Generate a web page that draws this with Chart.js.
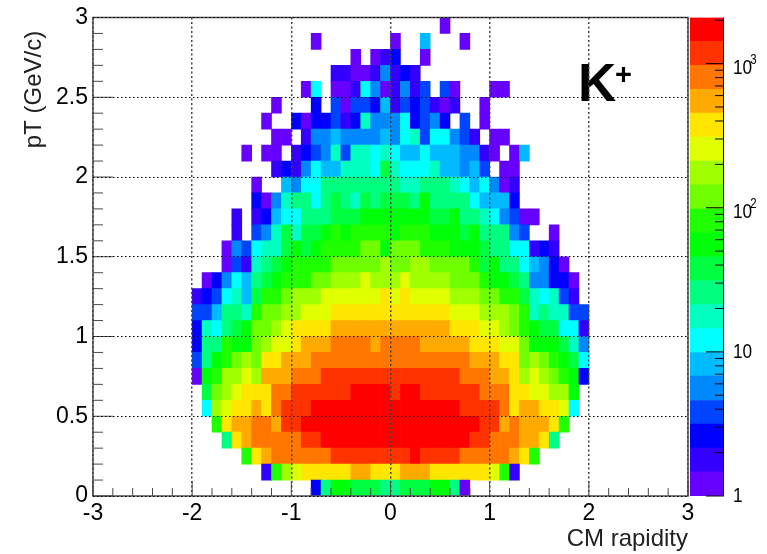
<!DOCTYPE html>
<html>
<head>
<meta charset="utf-8">
<title>K+ pT vs CM rapidity</title>
<script src="https://cdn.jsdelivr.net/npm/chart.js@4"></script>
<style>
  html, body { margin: 0; padding: 0; background: #fff; }
  #plot { position: absolute; left: 0; top: 0; }
  #zbar { position: absolute; left: 690px; top: 0; }
</style>
</head>
<body>
<canvas id="plot" width="767" height="554"></canvas>
<canvas id="zbar" width="77" height="554"></canvas>
<script>
// axes
const rapidityTicks = [-3, -2, -1, 0, 1, 2, 3];
const rapidityMinor = [-2.8, -2.6, -2.4, -2.2, -1.8, -1.6, -1.4, -1.2, -0.8, -0.6, -0.4, -0.2, 0.2, 0.4, 0.6, 0.8, 1.2, 1.4, 1.6, 1.8, 2.2, 2.4, 2.6, 2.8];
const ptTicks = [0, 0.5, 1, 1.5, 2, 2.5, 3];
const ptMinor = [0.1, 0.2, 0.3, 0.4, 0.6, 0.7, 0.8, 0.9, 1.1, 1.2, 1.3, 1.4, 1.6, 1.7, 1.8, 1.9, 2.1, 2.2, 2.3, 2.4, 2.6, 2.7, 2.8, 2.9];
const xTitle = "CM rapidity";
const yTitle = "pT (GeV/c)\u00a0\u00a0";

// colour bar, bottom band first
const bandEdges = [1, 1.47, 2.15, 3.15, 4.6, 6.8, 9.9, 14.5, 21.3, 31.2, 45.7, 67, 98, 144, 211, 309, 453, 664, 973, 1426, 2090];
const bandColors = ["#6600ff", "#3300ff", "#0000ff", "#0044ff", "#0088ff", "#00bbff", "#00ffff", "#00ffc0", "#00ff80", "#00ff40",
  "#00ff08", "#20ff00", "#70ff00", "#a0ff00", "#e0ff00", "#ffe600", "#ffaa00", "#ff7700", "#ff3300", "#ff0000"];
const zTicks = [1, 2, 3, 4, 5, 6, 7, 8, 9, 10, 20, 30, 40, 50, 60, 70, 80, 90, 100, 200, 300, 400, 500, 600, 700, 800, 900, 1000, 2000];
// tick value: [base text, exponent text]
const zLabels = { 1: ["1", ""], 10: ["10", ""], 100: ["10", "2"], 1000: ["10", "3"] };

// rapidity bins run -2 to 2 in steps of 0.1, pT bins 0 to 3 in steps of 0.1
const rapidityStart = -2;
const binWidth = 0.1;
const bandRows = [
  [0,0,0,0,0,0,0,0,0,0,0,0,3,9,11,11,10,10,10,9,9,10,10,10,11,11,9,1,0,0,0,0,0,0,0,0,0,0,0,0],
  [0,0,0,0,0,0,0,2,12,14,15,16,16,16,16,16,17,17,16,16,16,17,17,17,16,16,16,16,16,16,15,12,2,0,0,0,0,0,0,0],
  [0,0,0,0,0,12,16,17,18,18,18,18,18,18,19,19,19,19,19,19,19,19,20,19,19,19,19,18,18,18,18,18,17,16,12,0,0,0,0,0],
  [0,0,0,9,16,17,18,18,18,18,18,19,19,20,20,20,20,20,20,20,20,20,20,20,20,20,20,20,19,19,18,18,18,17,17,16,9,0,0,0],
  [0,0,12,16,17,17,18,18,17,19,19,20,20,20,20,20,20,20,20,20,20,20,20,20,20,20,20,20,20,19,19,17,18,17,17,17,16,12,0,0],
  [0,7,14,15,16,16,17,16,18,19,19,19,20,20,20,20,20,20,20,20,20,20,20,20,20,20,20,19,19,19,19,18,16,17,17,16,16,15,7,0],
  [0,10,13,14,15,16,16,16,18,18,19,19,19,19,19,19,20,20,20,20,19,20,20,19,19,19,19,19,19,18,18,18,16,16,15,15,14,14,11,0],
  [1,11,12,14,14,15,14,17,17,17,18,18,18,19,19,19,19,19,19,19,19,19,19,19,19,19,19,18,18,18,17,17,16,14,15,14,13,12,11,3],
  [4,9,11,12,13,14,13,16,16,17,17,17,18,18,18,18,18,18,18,18,18,18,18,18,18,18,18,18,17,17,17,16,16,13,14,13,12,11,10,7],
  [3,9,9,12,11,11,13,14,15,15,16,17,17,17,18,18,18,18,17,18,18,18,18,17,17,17,17,17,16,16,16,15,15,13,11,11,11,10,8,5],
  [3,8,7,9,10,11,13,13,14,15,16,16,16,16,17,17,17,17,17,17,17,17,17,17,17,17,16,16,16,15,15,14,13,12,11,10,10,7,7,2],
  [4,4,6,9,9,8,12,13,13,14,14,15,15,15,16,16,16,16,16,16,16,16,16,16,16,16,15,15,15,14,14,14,13,12,8,9,8,8,4,4],
  [2,3,4,7,8,6,10,12,12,13,14,14,14,15,15,15,15,15,15,16,15,16,15,15,15,15,14,14,14,13,13,12,12,10,8,7,8,4,2,0],
  [0,1,3,5,7,6,9,10,11,12,12,12,13,13,14,14,14,15,14,14,14,15,14,14,14,14,13,13,13,12,11,11,10,9,5,5,3,3,1,0],
  [0,0,0,1,4,2,8,9,10,11,12,12,12,12,13,13,13,13,13,14,13,13,14,14,13,13,13,13,12,10,11,9,9,7,6,5,3,1,0,0],
  [0,0,0,1,5,4,7,8,8,10,11,10,11,12,12,12,12,13,13,11,13,13,13,12,12,12,11,11,11,10,9,9,7,7,2,3,2,0,0,0],
  [0,0,0,0,2,0,4,5,8,10,8,10,10,11,12,11,12,12,12,12,11,12,12,12,11,11,11,10,11,9,9,9,5,4,0,0,1,0,0,0],
  [0,0,0,0,2,0,2,3,6,7,7,9,9,9,10,10,10,11,11,11,11,11,11,11,10,10,11,9,9,8,7,5,4,1,1,0,0,0,0,0],
  [0,0,0,0,0,0,3,1,5,8,9,9,7,9,10,9,8,10,9,10,10,10,9,11,9,9,9,9,7,6,6,6,3,0,0,0,0,0,0,0],
  [0,0,0,0,0,0,1,0,0,6,5,7,7,9,9,9,9,9,9,9,9,8,8,9,9,9,8,7,6,7,5,1,2,0,0,0,0,0,0,0],
  [0,0,0,0,0,0,0,0,2,3,2,5,7,6,6,8,8,8,7,10,8,7,7,7,8,6,6,5,6,4,0,1,1,0,0,0,0,0,0,0],
  [0,0,0,0,0,1,0,1,1,0,2,3,4,5,8,4,8,8,7,8,7,6,6,7,6,6,6,5,5,2,1,0,1,6,0,0,0,0,0,0],
  [0,0,0,0,0,0,0,0,1,1,0,2,5,5,6,5,5,5,5,6,5,7,8,4,7,7,5,4,2,0,1,1,0,0,0,0,0,0,0,0],
  [0,0,0,0,0,0,0,1,0,0,3,1,3,3,4,2,3,8,5,5,5,7,3,4,5,3,0,4,0,1,0,0,0,0,0,0,0,0,0,0],
  [0,0,0,0,0,0,0,0,1,0,0,0,3,0,4,1,4,4,3,6,2,4,3,4,2,1,2,0,0,1,0,0,0,0,0,0,0,0,0,0],
  [0,0,0,0,0,0,0,0,0,0,0,1,7,0,1,1,2,7,5,1,2,5,2,4,0,4,1,0,0,0,1,1,0,0,0,0,0,0,0,0],
  [0,0,0,0,0,0,0,0,0,0,0,0,0,0,2,2,1,1,2,5,2,3,2,0,0,0,0,0,0,0,0,0,0,0,0,0,0,0,0,0],
  [0,0,0,0,0,0,0,0,0,0,0,0,0,0,0,0,1,0,1,2,3,0,0,1,0,0,0,0,0,0,0,0,0,0,0,0,0,0,0,0],
  [0,0,0,0,0,0,0,0,0,0,0,0,1,0,0,0,0,0,0,0,1,0,0,6,0,0,0,1,0,0,0,0,0,0,0,0,0,0,0,0],
  [0,0,0,0,0,0,0,0,0,0,0,0,0,0,0,0,0,0,0,0,0,0,0,0,0,1,0,0,0,0,0,0,0,0,0,0,0,0,0,0]
];

const FONT = "'Liberation Sans', Arial, sans-serif";
const AXIS_COLOR = "#4a4a4a";
Chart.defaults.font.family = FONT;
Chart.defaults.color = "#000";
Chart.defaults.animation = false;

// one floating-bar dataset per pT row
function rowToDataset(row, r) {
  const data = [], colors = [];
  row.forEach((band, i) => {
    if (!band) return;
    const center = rapidityStart + (i + 0.5) * binWidth;
    data.push({ x: center, y: [r * binWidth, (r + 1) * binWidth] });
    colors.push(bandColors[band - 1]);
  });
  return { data, backgroundColor: colors, barPercentage: 1, categoryPercentage: 1, grouped: false, borderWidth: 0 };
}

// ROOT style frame and inward ticks
const framePlugin = {
  id: "frame",
  afterDatasetsDraw(chart) {
    const { ctx, chartArea: a, scales } = chart;
    ctx.save();
    ctx.strokeStyle = AXIS_COLOR;
    ctx.lineWidth = 1;
    ctx.beginPath();
    rapidityTicks.forEach(v => { const p = scales.x.getPixelForValue(v); ctx.moveTo(p, a.bottom); ctx.lineTo(p, a.bottom - 15); });
    rapidityMinor.forEach(v => { const p = scales.x.getPixelForValue(v); ctx.moveTo(p, a.bottom); ctx.lineTo(p, a.bottom - 8); });
    ptTicks.forEach(v => { const p = scales.y.getPixelForValue(v); ctx.moveTo(a.left, p); ctx.lineTo(a.left + 20, p); });
    ptMinor.forEach(v => { const p = scales.y.getPixelForValue(v); ctx.moveTo(a.left, p); ctx.lineTo(a.left + 10, p); });
    ctx.stroke();
    ctx.lineWidth = 1.5;
    ctx.strokeRect(a.left, a.top, a.right - a.left, a.bottom - a.top);
    // particle label
    ctx.fillStyle = "#000";
    ctx.textAlign = "left";
    ctx.textBaseline = "alphabetic";
    ctx.font = "bold 53px " + FONT;
    ctx.fillText("K", 578, 101);
    ctx.font = "bold 29px " + FONT;
    ctx.fillText("+", 615, 84);
    ctx.restore();
  }
};

new Chart(document.getElementById("plot"), {
  type: "bar",
  data: { datasets: bandRows.map(rowToDataset) },
  plugins: [framePlugin],
  options: {
    responsive: false,
    layout: { padding: { top: 17.5, right: 79, left: 0, bottom: 0 } },
    plugins: { legend: { display: false }, tooltip: { enabled: false } },
    scales: {
      x: {
        type: "linear", min: -3, max: 3, offset: false,
        afterBuildTicks: s => { s.ticks = rapidityTicks.map(value => ({ value })); },
        afterFit: s => { s.height = 58; s.paddingLeft = 0; s.paddingRight = 0; },
        grid: { offset: false, z: 1, color: "#444", lineWidth: 1.5, drawTicks: false },
        border: { display: false, dash: [2, 2.5] },
        ticks: { autoSkip: false, maxRotation: 0, padding: 4, font: { size: 23 }, color: "#000", callback: v => String(v) },
        title: { display: true, text: xTitle, align: "end", font: { size: 24 }, color: "#222", padding: { top: 0, bottom: 0 } }
      },
      y: {
        type: "linear", min: 0, max: 3,
        afterBuildTicks: s => { s.ticks = ptTicks.map(value => ({ value })); },
        afterFit: s => { s.width = 93; s.paddingTop = 0; s.paddingBottom = 0; },
        grid: { z: 1, color: "#000", lineWidth: 1, drawTicks: false },
        border: { display: false, dash: [1.5, 2.5] },
        ticks: { autoSkip: false, padding: 5, font: { size: 23 }, color: "#000", callback: v => String(v) },
        title: { display: true, text: yTitle, align: "end", font: { size: 24 }, color: "#222", padding: { top: 20, bottom: 0 } }
      }
    }
  }
});

// colour bar: one floating bar per band on a log axis
const barTicksPlugin = {
  id: "barTicks",
  afterDatasetsDraw(chart) {
    const { ctx, chartArea: a, scales } = chart;
    ctx.save();
    ctx.strokeStyle = "#000";
    ctx.lineWidth = 1;
    ctx.beginPath();
    zTicks.forEach(v => {
      const p = scales.y.getPixelForValue(v);
      const len = zLabels[v] ? 18 : 9;
      ctx.moveTo(a.right, p);
      ctx.lineTo(a.right - len, p);
    });
    ctx.moveTo(a.right - 0.5, a.top);
    ctx.lineTo(a.right - 0.5, a.bottom);
    ctx.stroke();

    // labels are a bit condensed in the original, exponent sits up beside the 10
    ctx.fillStyle = "#000";
    ctx.textAlign = "left";
    ctx.textBaseline = "alphabetic";
    Object.keys(zLabels).forEach(key => {
      const [base, exp] = zLabels[key];
      const p = scales.y.getPixelForValue(Number(key));
      ctx.save();
      ctx.translate(a.right + 9, p + (exp ? 10.5 : 6));
      ctx.scale(0.82, 1);
      ctx.font = "21px " + FONT;
      ctx.fillText(base, 0, 0);
      if (exp) {
        ctx.font = "14px " + FONT;
        ctx.fillText(exp, 21, -10);
      }
      ctx.restore();
    });
    ctx.restore();
  }
};

new Chart(document.getElementById("zbar"), {
  type: "bar",
  data: {
    labels: ["z"],
    datasets: bandColors.map((color, k) => ({
      data: [[bandEdges[k], bandEdges[k + 1]]],
      backgroundColor: color, barPercentage: 1, categoryPercentage: 1, grouped: false, borderWidth: 0
    }))
  },
  plugins: [barTicksPlugin],
  options: {
    responsive: false,
    layout: { padding: { top: 17.5, bottom: 58, left: 0, right: 0 } },
    plugins: { legend: { display: false }, tooltip: { enabled: false } },
    scales: {
      x: { display: false },
      y: {
        type: "logarithmic", position: "right", min: 1, max: 2090,
        afterBuildTicks: s => { s.ticks = zTicks.map(value => ({ value })); },
        afterFit: s => { s.width = 43; s.paddingTop = 0; s.paddingBottom = 0; },
        grid: { display: false, drawTicks: false },
        border: { display: false },
        ticks: { display: false }
      }
    }
  }
});
</script>
</body>
</html>
